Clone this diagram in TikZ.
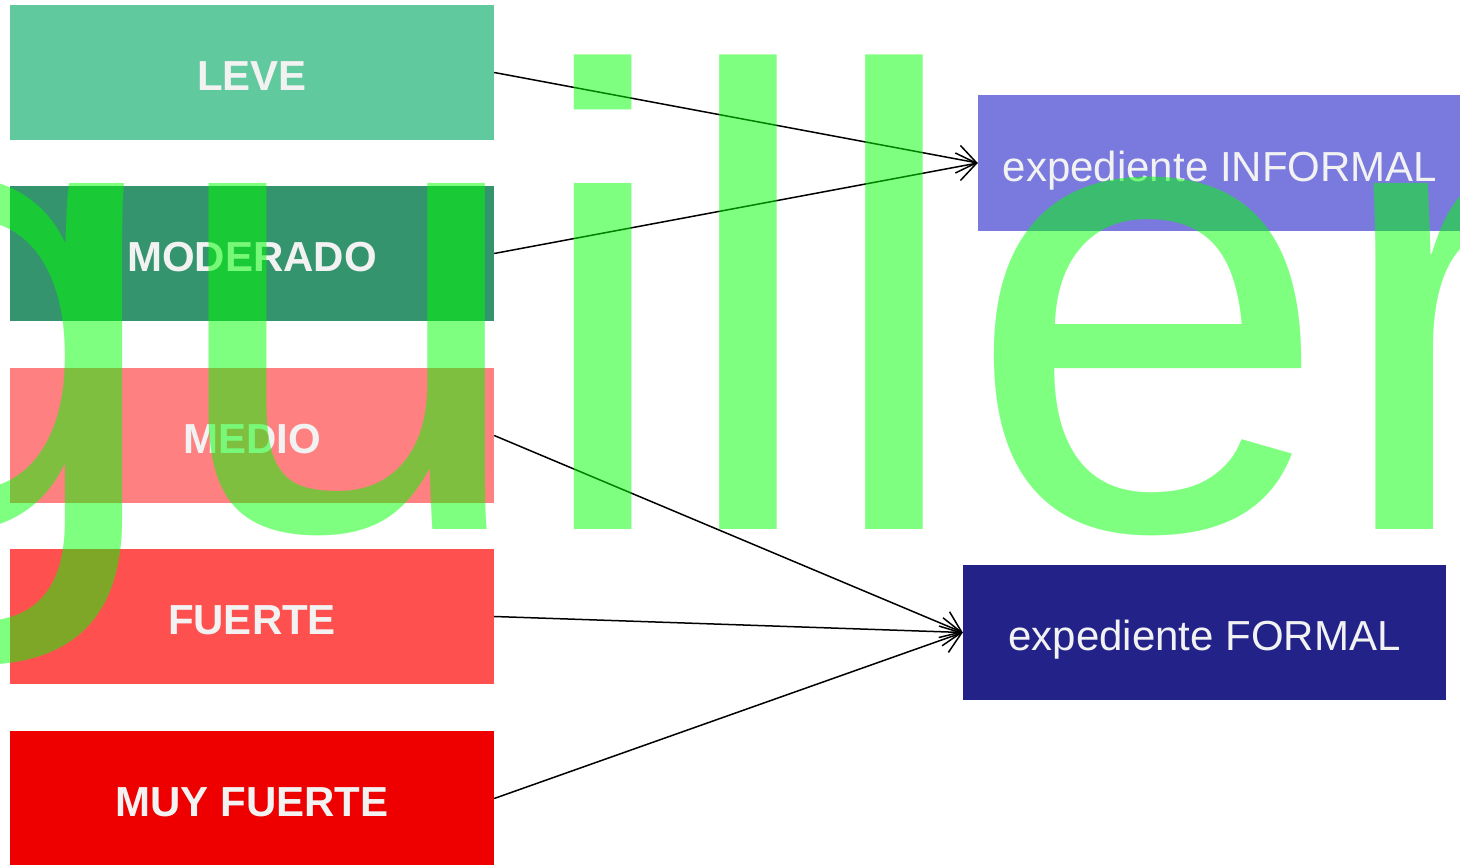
\documentclass[tikz,border=0pt]{standalone}
\usepackage{fontspec}
\setmainfont{Liberation Sans}
\usetikzlibrary{arrows.meta}
\definecolor{cLeve}{RGB}{97,201,158}
\definecolor{cMod}{RGB}{51,148,110}
\definecolor{cMedio}{RGB}{255,128,128}
\definecolor{cFuerte}{RGB}{255,80,80}
\definecolor{cMuy}{RGB}{238,0,0}
\definecolor{cInf}{RGB}{122,122,222}
\definecolor{cFor}{RGB}{34,34,136}
\definecolor{cText}{RGB}{242,242,242}
\begin{document}
\begin{tikzpicture}[x=1pt,y=1pt,
  box/.style={rectangle, inner sep=0pt, minimum width=484pt, minimum height=135pt,
    text=cText, font=\fontsize{42}{50}\selectfont, text height=37pt, text depth=0pt},
  lvl/.style={box, font=\fontsize{42}{50}\selectfont\bfseries},
  conn/.style={draw=black, line width=1.5pt,
    -{Straight Barb[length=19pt,width=28pt,line width=1.5pt]}},
  wmark/.style={anchor=base west, inner sep=0pt, text=green, text opacity=0.5,
    font=\fontsize{655}{700}\selectfont}]
\useasboundingbox (0,0) rectangle (1460,865);
\clip (0,0) rectangle (1460,865);
\node[lvl, fill=cLeve] (leve) at (252,792.5) {LEVE};
\node[lvl, fill=cMod] (mod) at (252,611.5) {MODERADO};
\node[lvl, fill=cMedio] (medio) at (252,429.5) {MEDIO};
\node[lvl, fill=cFuerte] (fuerte) at (252,248.5) {FUERTE};
\node[lvl, fill=cMuy] (muy) at (252,66.5) {MUY FUERTE};
\node[box, fill=cInf, minimum height=136pt] (inf) at (1220,702) {expediente INFORMAL};
\node[box, fill=cFor, minimum width=483pt] (for) at (1204.5,232.5) {expediente FORMAL};
\draw[conn] (leve.east) -- (inf.west);
\draw[conn] (mod.east) -- (inf.west);
\draw[conn] (medio.east) -- (for.west);
\draw[conn] (fuerte.east) -- (for.west);
\draw[conn] (muy.east) -- (for.west);
\node[wmark] (wm) at (-198,335) {guiller};
\end{tikzpicture}
\end{document}
